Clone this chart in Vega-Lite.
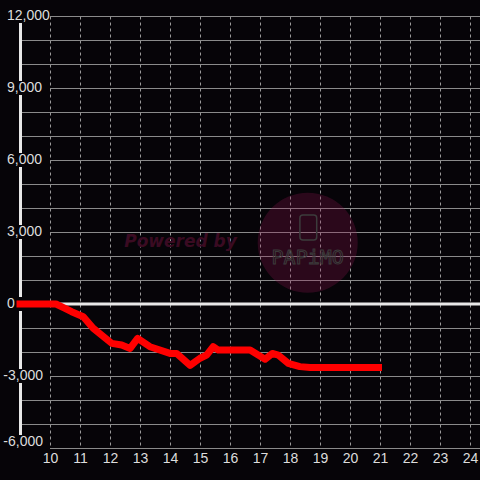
{
  "$schema": "https://vega.github.io/schema/vega-lite/v6.json",
  "width": 460,
  "height": 432,
  "autosize": {"type": "none"},
  "padding": {"left": 20, "top": 16, "right": 0, "bottom": 32},
  "background": "#060408",
  "config": {"view": {"stroke": null}, "font": "Liberation Sans"},
  "resolve": {"axis": {"x": "independent", "y": "independent"}},
  "datasets": {
    "series": [
      {"t": 9, "v": 0}, {"t": 10.2, "v": 0}, {"t": 10.5, "v": -180}, {"t": 10.72, "v": -320},
      {"t": 11.11, "v": -530}, {"t": 11.44, "v": -1010}, {"t": 12.06, "v": -1640}, {"t": 12.39, "v": -1710},
      {"t": 12.67, "v": -1850}, {"t": 12.92, "v": -1430}, {"t": 13.33, "v": -1780}, {"t": 14.0, "v": -2060},
      {"t": 14.22, "v": -2060}, {"t": 14.67, "v": -2560}, {"t": 15.0, "v": -2260}, {"t": 15.22, "v": -2130},
      {"t": 15.44, "v": -1780}, {"t": 15.61, "v": -1920}, {"t": 16.67, "v": -1920}, {"t": 17.17, "v": -2300},
      {"t": 17.41, "v": -2060}, {"t": 17.61, "v": -2130}, {"t": 17.94, "v": -2470}, {"t": 18.33, "v": -2610},
      {"t": 18.67, "v": -2650}, {"t": 20.95, "v": -2650}
    ],
    "ylabels": [
      {"v": 12000, "label": "12,000"}, {"v": 9000, "label": "9,000"}, {"v": 6000, "label": "6,000"},
      {"v": 3000, "label": "3,000"}, {"v": 0, "label": "0"}, {"v": -3000, "label": "-3,000"},
      {"v": -6000, "label": "-6,000"}
    ],
    "one": [{}]
  },
  "layer": [
    {
      "data": {"name": "series"},
      "mark": {"type": "line", "stroke": "#ff0000", "strokeWidth": 7, "opacity": 0},
      "encoding": {
        "x": {"field": "t", "type": "quantitative", "title": null,
          "scale": {"domain": [9, 24.333], "nice": false, "zero": false},
          "axis": {"values": [10, 11, 12, 13, 14, 15, 16, 17, 18, 19, 20, 21, 22, 23, 24], "format": "d",
            "domain": false, "ticks": false, "labelPadding": 3, "labelColor": "#dddddd", "labelFontSize": 14,
            "labelFont": "Liberation Sans", "labelFlush": false, "labelOverlap": false, "grid": true, "gridColor": "#9a9a9a",
            "gridDash": [3, 3], "gridWidth": 1, "title": null, "zindex": 0}},
        "y": {"field": "v", "type": "quantitative", "title": null,
          "scale": {"domain": [-6000, 12000], "nice": false, "zero": false},
          "axis": {"values": [-6000, -5000, -4000, -3000, -2000, -1000, 0, 1000, 2000, 3000, 4000, 5000, 6000, 7000, 8000, 9000, 10000, 11000, 12000],
            "labels": false, "ticks": false, "domain": true, "domainColor": "#e8e8e8", "domainWidth": 3,
            "grid": true, "gridColor": "#8a8a8a", "gridWidth": 1, "title": null, "zindex": 0}}
      }
    },
    {
      "data": {"name": "one"},
      "mark": {"type": "point", "shape": "circle", "filled": true, "size": 10000, "color": "#901850", "opacity": 0.27},
      "encoding": {"x": {"datum": 18.59, "type": "quantitative", "axis": null}, "y": {"datum": 2554, "type": "quantitative", "axis": null}}
    },
    {
      "data": {"name": "one"},
      "mark": {"type": "rect", "fill": "transparent", "stroke": "#3c3c3c", "strokeWidth": 1.5, "cornerRadius": 3},
      "encoding": {
        "x": {"datum": 18.33, "type": "quantitative", "axis": null}, "x2": {"datum": 18.89},
        "y": {"datum": 3708, "type": "quantitative", "axis": null}, "y2": {"datum": 2667}
      }
    },
    {
      "data": {"name": "one"},
      "mark": {"type": "text", "text": "PAPiMO", "font": "DejaVu Sans Mono", "fontSize": 20, "fill": "transparent", "stroke": "#3c3c3c", "strokeWidth": 1, "align": "center", "baseline": "middle"},
      "encoding": {"x": {"datum": 18.59, "type": "quantitative", "axis": null}, "y": {"datum": 1930, "type": "quantitative", "axis": null}}
    },
    {
      "data": {"name": "one"},
      "mark": {"type": "text", "text": "Powered by", "font": "DejaVu Sans", "fontWeight": "bold", "fontStyle": "italic", "fontSize": 17, "color": "#3a0b22", "align": "center", "baseline": "middle"},
      "encoding": {"x": {"datum": 14.35, "type": "quantitative", "axis": null}, "y": {"datum": 2596, "type": "quantitative", "axis": null}}
    },
    {
      "data": {"name": "one"},
      "mark": {"type": "rule", "stroke": "#e8e8e8", "strokeWidth": 3},
      "encoding": {"y": {"datum": 0, "type": "quantitative", "axis": null}}
    },
    {
      "data": {"name": "ylabels"},
      "transform": [{"filter": "datum.v > -6000"}],
      "mark": {"type": "rect", "width": 46, "height": 14, "xOffset": 7, "fill": "#060408"},
      "encoding": {"x": {"datum": 9, "type": "quantitative", "axis": null}, "y": {"field": "v", "type": "quantitative", "axis": null}}
    },
    {
      "data": {"name": "ylabels"},
      "transform": [{"filter": "datum.v <= -6000"}],
      "mark": {"type": "rect", "width": 46, "height": 14, "xOffset": 7, "yOffset": -6, "fill": "#060408"},
      "encoding": {"x": {"datum": 9, "type": "quantitative", "axis": null}, "y": {"field": "v", "type": "quantitative", "axis": null}}
    },
    {
      "data": {"name": "ylabels"},
      "transform": [{"filter": "datum.v >= 0"}],
      "mark": {"type": "text", "align": "left", "baseline": "middle", "dx": -13, "font": "Liberation Sans", "fontSize": 14, "color": "#dddddd"},
      "encoding": {"x": {"datum": 9, "type": "quantitative", "axis": null}, "y": {"field": "v", "type": "quantitative", "axis": null}, "text": {"field": "label"}}
    },
    {
      "data": {"name": "ylabels"},
      "transform": [{"filter": "datum.v < 0 && datum.v > -6000"}],
      "mark": {"type": "text", "align": "right", "baseline": "middle", "dx": 23, "font": "Liberation Sans", "fontSize": 14, "color": "#dddddd"},
      "encoding": {"x": {"datum": 9, "type": "quantitative", "axis": null}, "y": {"field": "v", "type": "quantitative", "axis": null}, "text": {"field": "label"}}
    },
    {
      "data": {"name": "ylabels"},
      "transform": [{"filter": "datum.v <= -6000"}],
      "mark": {"type": "text", "align": "right", "baseline": "middle", "dx": 23, "dy": -6, "font": "Liberation Sans", "fontSize": 14, "color": "#dddddd"},
      "encoding": {"x": {"datum": 9, "type": "quantitative", "axis": null}, "y": {"field": "v", "type": "quantitative", "axis": null}, "text": {"field": "label"}}
    },
    {
      "data": {"name": "series"},
      "mark": {"type": "line", "stroke": "#ff0000", "strokeWidth": 7, "strokeCap": "square", "strokeJoin": "round"},
      "encoding": {
        "x": {"field": "t", "type": "quantitative", "axis": null},
        "y": {"field": "v", "type": "quantitative", "axis": null}
      }
    }
  ]
}
